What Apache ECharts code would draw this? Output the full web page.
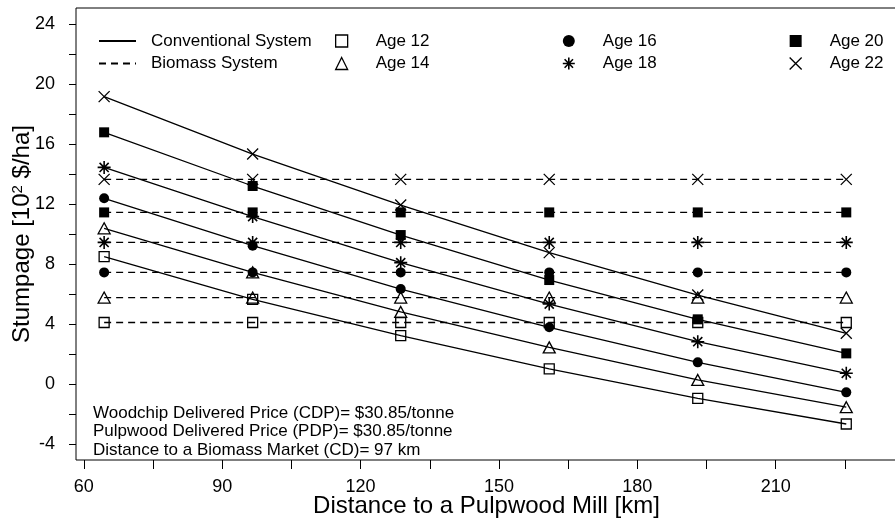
<!DOCTYPE html>
<html>
<head>
<meta charset="utf-8">
<script src="https://cdn.jsdelivr.net/npm/echarts@6/dist/echarts.min.js"></script>
<style>
    html, body { margin: 0; padding: 0; background: #fff; }
    #chart { width: 895px; height: 519px; }
</style>
</head>
<body>
<div id="chart"></div>
<script>
// distance to pulpwood mill (km)
const distKm = [64.4, 96.6, 128.7, 160.9, 193.1, 225.3];

// conventional system stumpage [10^2 $/ha]
const conv12 = [8.49, 5.64, 3.22, 1.0, -0.96, -2.67];
const conv14 = [10.38, 7.44, 4.8, 2.44, 0.27, -1.55];
const conv16 = [12.38, 9.22, 6.33, 3.78, 1.44, -0.56];
const conv18 = [14.44, 11.16, 8.09, 5.33, 2.82, 0.71];
const conv20 = [16.78, 13.2, 9.93, 6.93, 4.31, 2.04];
const conv22 = [19.16, 15.33, 11.93, 8.76, 5.93, 3.38];

// biomass system stumpage [10^2 $/ha]
const bio12 = [4.1, 4.1, 4.1, 4.1, 4.1, 4.1];
const bio14 = [5.76, 5.76, 5.76, 5.76, 5.76, 5.76];
const bio16 = [7.44, 7.44, 7.44, 7.44, 7.44, 7.44];
const bio18 = [9.44, 9.44, 9.44, 9.44, 9.44, 9.44];
const bio20 = [11.44, 11.44, 11.44, 11.44, 11.44, 11.44];
const bio22 = [13.64, 13.64, 13.64, 13.64, 13.64, 13.64];

const ageNames = ['Age 12', 'Age 14', 'Age 16', 'Age 18', 'Age 20', 'Age 22'];
const systemNames = ['Conventional System', 'Biomass System'];
const xTicks = [60, 75, 90, 105, 120, 135, 150, 165, 180, 195, 210, 225, 240];
const xLabels = [60, 90, 120, 150, 180, 210];
const yTicks = [-4, -2, 0, 2, 4, 6, 8, 10, 12, 14, 16, 18, 20, 22, 24];
const yLabels = [-4, 0, 4, 8, 12, 16, 20, 24];
const notes = [
    'Woodchip Delivered Price (CDP)= $30.85/tonne',
    'Pulpwood Delivered Price (PDP)= $30.85/tonne',
    'Distance to a Biomass Market (CD)= 97 km'
];

const convSets = [conv12, conv14, conv16, conv18, conv20, conv22];
const bioSets = [bio12, bio14, bio16, bio18, bio20, bio22];

const FONT = '"Liberation Sans", Arial, sans-serif';
const openStyle = { color: 'rgba(0,0,0,0)', borderColor: '#000', borderWidth: 1.3 };
const starStyle = { color: 'rgba(0,0,0,0)', borderColor: '#000', borderWidth: 1.6 };
const fillStyle = { color: '#000', borderWidth: 0 };
const starPath = 'path://M0,5L10,5M5,0L5,10M1.5,1.5L8.5,8.5M8.5,1.5L1.5,8.5';
const crossPath = 'path://M0,0L10,10M10,0L0,10';

const markers = [
    { symbol: 'rect', size: 10, style: openStyle },
    { symbol: 'triangle', size: [12, 11], style: openStyle },
    { symbol: 'circle', size: 10, style: fillStyle },
    { symbol: starPath, size: 13, style: starStyle },
    { symbol: 'rect', size: 10, style: fillStyle },
    { symbol: crossPath, size: 11, style: openStyle }
];

const series = [];
// dummy series only for the system legend
series.push({ type: 'line', name: systemNames[0], data: [], symbol: 'none', symbolSize: 0,
    lineStyle: { color: '#000', width: 1.5, type: 'solid' }, itemStyle: { color: '#000' } });
series.push({ type: 'line', name: systemNames[1], data: [], symbol: 'none', symbolSize: 0,
    lineStyle: { color: '#000', width: 1.5, type: [7, 5] }, itemStyle: { color: '#000' } });

ageNames.forEach((age, i) => {
    const m = markers[i];
    series.push({
        type: 'line',
        name: age,
        data: distKm.map((x, j) => [x, convSets[i][j]]),
        symbol: m.symbol,
        symbolSize: m.size,
        itemStyle: m.style,
        lineStyle: { color: '#000', width: 1.3, type: 'solid' },
        emphasis: { disabled: true },
        z: 3
    });
    series.push({
        type: 'line',
        name: age + ' biomass',
        data: distKm.map((x, j) => [x, bioSets[i][j]]),
        symbol: m.symbol,
        symbolSize: m.size,
        itemStyle: m.style,
        lineStyle: { color: '#000', width: 1.3, type: [7, 5] },
        emphasis: { disabled: true },
        z: 2
    });
});

const ageLegend = (left, idx) => ({
    left: left,
    top: 32,
    orient: 'vertical',
    padding: 0,
    itemGap: 4.5,
    itemWidth: 12,
    itemHeight: 12,
    selectedMode: false,
    textStyle: { fontFamily: FONT, fontSize: 17, color: '#000', lineHeight: 18, padding: [0, 0, 0, 23] },
    data: idx.map(i => ({
        name: ageNames[i],
        icon: markers[i].symbol,
        itemStyle: Object.assign({}, markers[i].style)
    }))
});

const chart = echarts.init(document.getElementById('chart'));
chart.setOption({
    animation: false,
    backgroundColor: '#fff',
    grid: {
        left: 76, right: -20, top: 8, bottom: 59,
        containLabel: false,
        outerBoundsMode: 'none',
        show: true, borderColor: '#000', borderWidth: 1, backgroundColor: 'transparent'
    },
    legend: [
        {
            left: 98, top: 32, orient: 'vertical', padding: 0, itemGap: 4.5,
            itemWidth: 37, itemHeight: 14, selectedMode: false,
            textStyle: { fontFamily: FONT, fontSize: 17, color: '#000', lineHeight: 18, padding: [0, 0, 0, 10] },
            data: systemNames.map(n => ({ name: n, itemStyle: { opacity: 0 } }))
        },
        ageLegend(335, [0, 1]),
        ageLegend(562, [2, 3]),
        ageLegend(789, [4, 5])
    ],
    xAxis: {
        type: 'value',
        min: 58.3,
        max: 240.2,
        axisLine: { show: false, onZero: false },
        splitLine: { show: false },
        axisTick: { show: true, length: 9, customValues: xTicks, lineStyle: { color: '#000' } },
        axisLabel: { customValues: xLabels, margin: 18, color: '#000', fontFamily: FONT, fontSize: 18 },
        name: 'Distance to a Pulpwood Mill [km]',
        nameLocation: 'middle',
        nameMoveOverlap: false,
        nameGap: 34,
        nameTextStyle: { fontFamily: FONT, fontSize: 24, color: '#000', padding: [0, 18, 0, 0] }
    },
    yAxis: {
        type: 'value',
        min: -5.07,
        max: 25.07,
        axisLine: { show: false, onZero: false },
        splitLine: { show: false },
        axisTick: { show: true, length: 7, customValues: yTicks, lineStyle: { color: '#000' } },
        axisLabel: { customValues: yLabels, margin: 21, color: '#000', fontFamily: FONT, fontSize: 18 },
        name: 'Stumpage [10{sup|2} $/ha]',
        nameLocation: 'middle',
        nameMoveOverlap: false,
        nameGap: 42,
        nameTextStyle: {
            fontFamily: FONT, fontSize: 24, color: '#000',
            rich: { sup: { fontFamily: FONT, fontSize: 15, color: '#000', verticalAlign: 'top', lineHeight: 14 } }
        }
    },
    graphic: [{
        type: 'text',
        left: 93,
        top: 404,
        style: { text: notes.join('\n'), font: '17px ' + FONT, lineHeight: 18.5, fill: '#000' }
    }],
    series: series
});
</script>
</body>
</html>
